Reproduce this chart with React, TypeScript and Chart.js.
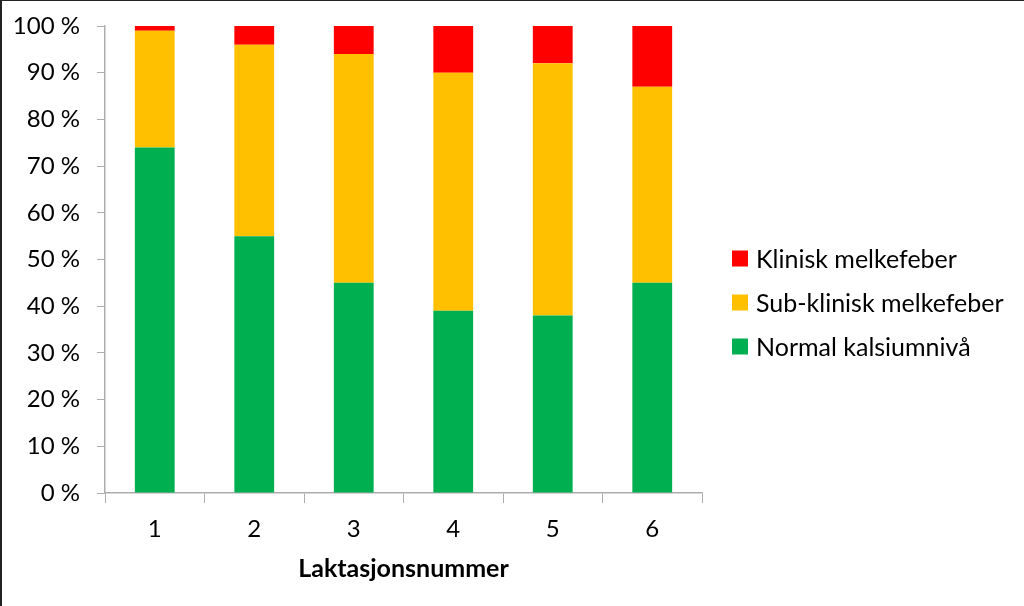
import React, { useEffect, useRef } from "react";
import { Chart, registerables } from "chart.js";

Chart.register(...registerables);

const categories = ["1", "2", "3", "4", "5", "6"];
const normal = [74, 55, 45, 39, 38, 45];
const subKlinisk = [25, 41, 49, 51, 54, 42];
const klinisk = [1, 4, 6, 10, 8, 13];
const seriesNames = ["Normal kalsiumnivå", "Sub-klinisk melkefeber", "Klinisk melkefeber"];
const seriesColors = ["#00B050", "#FFC000", "#FF0000"];
const yTicks = [0, 10, 20, 30, 40, 50, 60, 70, 80, 90, 100];

const FONT = "Lato, 'Open Sans', sans-serif";

const sideLegend = {
  id: "sideLegend",
  afterDraw(chart: any) {
    const { ctx, chartArea } = chart;
    const cy = chart.height / 2;
    const rowGap = 44;
    const box = 16;
    const bx = chartArea.right + 30;
    const items = chart.data.datasets.map((d: any) => ({ label: d.label, color: d.backgroundColor })).reverse();
    ctx.save();
    ctx.font = `25px ${FONT}`;
    ctx.textBaseline = "middle";
    ctx.textAlign = "left";
    items.forEach((it: any, i: number) => {
      const y = cy + (i - (items.length - 1) / 2) * rowGap;
      ctx.fillStyle = it.color;
      ctx.fillRect(bx, y - box / 2 - 1, box, box);
      ctx.fillStyle = "#000";
      ctx.fillText(it.label, bx + 24, y);
    });
    ctx.restore();
  },
};

export default function App() {
  const ref = useRef<HTMLCanvasElement | null>(null);
  useEffect(() => {
    document.body.style.margin = "0";
    if (!ref.current) return;
    const chart = new Chart(ref.current, {
      type: "bar",
      data: {
        labels: categories,
        datasets: [
          { label: seriesNames[0], data: normal, backgroundColor: seriesColors[0], barPercentage: 0.4, categoryPercentage: 1 },
          { label: seriesNames[1], data: subKlinisk, backgroundColor: seriesColors[1], barPercentage: 0.4, categoryPercentage: 1 },
          { label: seriesNames[2], data: klinisk, backgroundColor: seriesColors[2], barPercentage: 0.4, categoryPercentage: 1 },
        ],
      },
      plugins: [sideLegend],
      options: {
        animation: false,
        responsive: false,
        layout: { padding: { top: 25, left: 0, right: 322, bottom: 0 } },
        plugins: {
          tooltip: { enabled: false },
          legend: { display: false },
        },
        scales: {
          x: {
            stacked: true,
            afterFit: (axis: any) => {
              axis.height = 113;
            },
            grid: { drawOnChartArea: false, color: "#ADADAD", tickLength: 10, offset: true },
            border: { color: "#ADADAD", width: 1.5 },
            ticks: { color: "#000", font: { family: FONT, size: 24 }, padding: 12 },
            title: {
              display: true,
              text: "Laktasjonsnummer",
              color: "#000",
              font: { family: FONT, size: 25, weight: "bold" },
              padding: { top: 4, bottom: 22 },
            },
          },
          y: {
            stacked: true,
            min: 0,
            max: 100,
            afterFit: (axis: any) => {
              axis.width = 103;
              axis.paddingTop = 0;
              axis.paddingBottom = 0;
            },
            afterBuildTicks: (axis: any) => {
              axis.ticks = yTicks.map((v) => ({ value: v }));
            },
            grid: { drawOnChartArea: false, color: "#ADADAD", tickLength: 8 },
            border: { color: "#ADADAD", width: 1.5 },
            ticks: {
              color: "#000",
              font: { family: FONT, size: 24 },
              padding: 17,
              callback: (v: any) => `${v} %`,
            },
          },
        },
      },
    });
    return () => chart.destroy();
  }, []);
  return (
    <div
      style={{
        position: "absolute",
        left: 0,
        top: 0,
        width: 1024,
        height: 606,
        boxSizing: "border-box",
        borderTop: "1px solid #222",
        borderLeft: "2px solid #222",
        background: "#fff",
      }}
    >
      <canvas ref={ref} width={1022} height={605} style={{ display: "block" }} />
    </div>
  );
}
